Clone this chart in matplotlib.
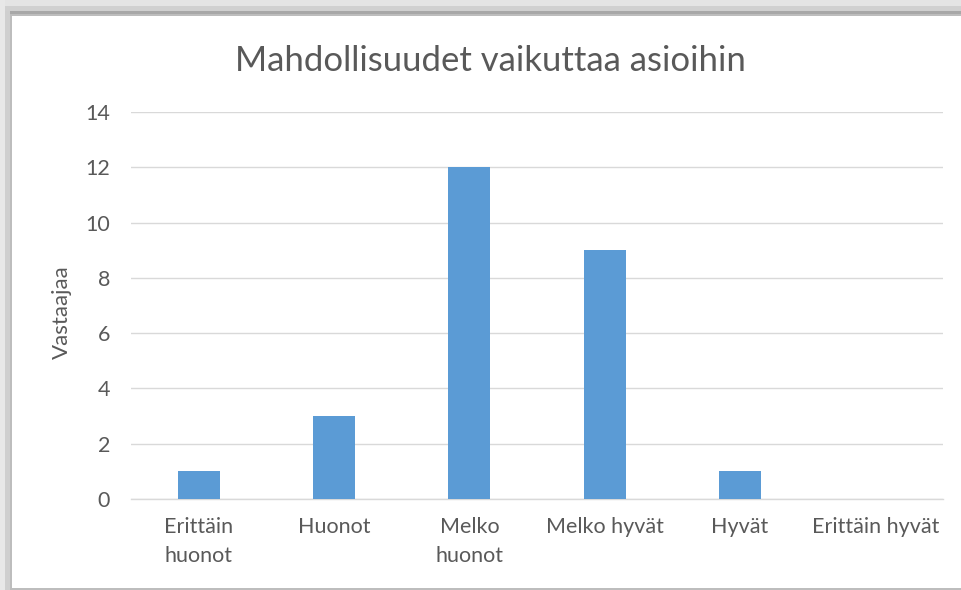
import matplotlib
matplotlib.use("Agg")
import matplotlib.pyplot as plt
from matplotlib.patches import Rectangle

categories = ["Erittäin\nhuonot", "Huonot", "Melko\nhuonot", "Melko hyvät", "Hyvät", "Erittäin hyvät"]
values = [1, 3, 12, 9, 1, 0]
yticks = [0, 2, 4, 6, 8, 10, 12, 14]
title = "Mahdollisuudet vaikuttaa asioihin"
ylabel = "Vastaajaa"

plt.rcParams['font.family'] = ['Lato', 'DejaVu Sans']
W, H = 961, 590
fig = plt.figure(figsize=(W / 100, H / 100), dpi=100)
fig.patch.set_facecolor('#d6d6d6')

def px(x0, y0, x1, y1, color, z=-10):
    fig.patches.append(Rectangle((x0 / W, 1 - y1 / H), (x1 - x0) / W, (y1 - y0) / H,
                                 transform=fig.transFigure, facecolor=color,
                                 edgecolor='none', zorder=z))

# shadow frame approximations
px(0, 0, W, 6, '#e4e4e4')
px(0, 6, W, 11, '#d0d0d0')
px(0, 11, W, 14, '#a8a8a8')
px(0, 0, 5, H, '#e8e8e8')
px(5, 11, 10, H, '#cfcfcf')
px(10, 14, W, H, '#bdbdbd')
px(12, 16, W, 588, '#ffffff')

ax = fig.add_axes([131 / W, 91 / H, (943 - 131) / W, (499 - 112) / H])
ax.set_zorder(5)
ax.set_facecolor('none')
x = list(range(len(categories)))
ax.bar(x, values, width=0.31, color='#5B9BD5', zorder=3)
ax.set_xlim(-0.5, len(categories) - 0.5)
ax.set_ylim(0, 14)
ax.set_yticks(yticks)
ax.set_xticks(x)
ax.set_xticklabels(categories, fontsize=15.5, color='#595959', linespacing=1.55)
ax.tick_params(axis='y', labelsize=15.5, labelcolor='#595959', length=0, pad=15)
ax.tick_params(axis='x', length=0, pad=13)
for lab in ax.get_xticklabels():
    lab.set_verticalalignment('top')
ax.grid(axis='y', color='#d9d9d9', linewidth=1, zorder=0)
for s in ['top', 'right', 'left']:
    ax.spines[s].set_visible(False)
ax.spines['bottom'].set_color('#d9d9d9')
ax.spines['bottom'].set_linewidth(1)
fig.text(62 / W, 1 - 312 / H, ylabel, fontsize=16, color='#595959', rotation=90,
         ha='center', va='center', zorder=10)
fig.text(490 / W, 1 - 61 / H, title, fontsize=25, color='#595959', ha='center', va='center', zorder=10)

fig.savefig('out.png', dpi=100, facecolor=fig.get_facecolor())
